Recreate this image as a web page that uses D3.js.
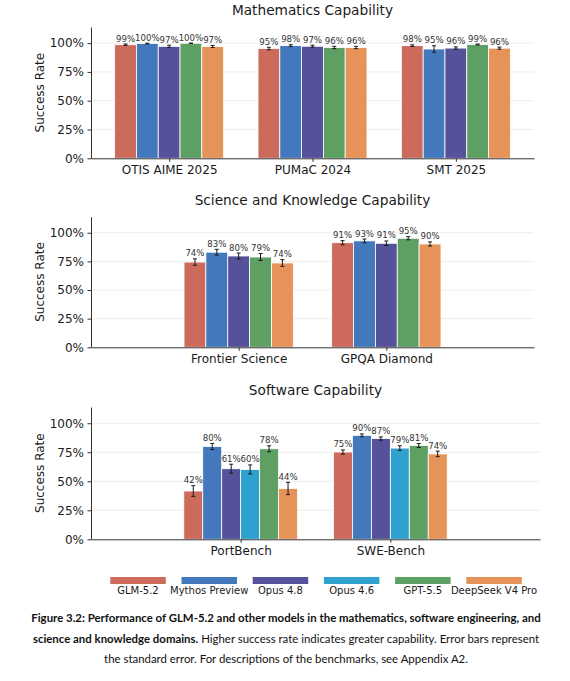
<!DOCTYPE html>
<html>
<head>
<meta charset="utf-8">
<script src="https://cdn.jsdelivr.net/npm/d3@7"></script>
<style>
  html, body { margin: 0; padding: 0; background: #fff; }
  svg { display: block; font-family: "DejaVu Sans", sans-serif; }
</style>
</head>
<body>
<div id="chart"></div>
<script>
(function(d3) {

    "use strict";

    // models, in legend order
    var models = ["GLM-5.2", "Mythos Preview", "Opus 4.8", "Opus 4.6", "GPT-5.5", "DeepSeek V4 Pro"];
    var modelColors = ["#cc6a5b", "#4478bd", "#55519b", "#2ea1cf", "#5e9f63", "#e6935a"];

    var yTicks = [0, 25, 50, 75, 100];

    // mathematics
    var mathBenchmarks = ["OTIS AIME 2025", "PUMaC 2024", "SMT 2025"];
    var mathModels = ["GLM-5.2", "Mythos Preview", "Opus 4.8", "GPT-5.5", "DeepSeek V4 Pro"];
    var mathValues = [
        [98.6, 99.6, 97.2, 99.9, 97.1],
        [95.3, 97.8, 97.3, 96.2, 96.2],
        [97.8, 94.9, 95.7, 98.8, 95.6]
    ];
    var mathErrors = [
        [0.6, 0.3, 1.0, 0.1, 0.9],
        [1.1, 0.8, 0.9, 1.0, 1.0],
        [0.7, 2.8, 1.0, 0.4, 0.9]
    ];

    // science and knowledge
    var scienceBenchmarks = ["Frontier Science", "GPQA Diamond"];
    var scienceModels = ["GLM-5.2", "Mythos Preview", "Opus 4.8", "GPT-5.5", "DeepSeek V4 Pro"];
    var scienceValues = [
        [74.4, 83.0, 79.7, 78.8, 73.6],
        [91.3, 92.9, 90.8, 95.2, 90.2]
    ];
    var scienceErrors = [
        [2.8, 2.5, 2.6, 3.0, 2.9],
        [1.8, 1.6, 2.0, 1.4, 1.8]
    ];

    // software
    var softwareBenchmarks = ["PortBench", "SWE-Bench"];
    var softwareModels = models;
    var softwareValues = [
        [41.6, 80.0, 60.8, 60.2, 78.0, 43.8],
        [75.2, 89.6, 86.8, 78.6, 80.8, 73.6]
    ];
    var softwareErrors = [
        [4.6, 2.6, 3.9, 3.9, 2.6, 5.3],
        [1.8, 1.2, 1.4, 2.0, 1.7, 2.4]
    ];

    var captionLines = [
        [{ text: "Figure 3.2: Performance of GLM-5.2 and other models in the mathematics, software engineering, and", bold: true }],
        [{ text: "science and knowledge domains.", bold: true },
         { text: " Higher success rate indicates greater capability. Error bars represent", bold: false }],
        [{ text: "the standard error. For descriptions of the benchmarks, see Appendix A2.", bold: false }]
    ];

    var width = 570,
        height = 681;

    var color = d3.scaleOrdinal().domain(models).range(modelColors);

    var svg = d3.select("#chart")
        .append("svg")
        .attr("width", width)
        .attr("height", height);

    svg.append("rect")
        .attr("width", width)
        .attr("height", height)
        .attr("fill", "#fff");

    /**
     * Draw one grouped bar panel
     * @param  {Object} p panel settings
     */
    function drawPanel(p) {
        var x = d3.scaleLinear().domain(p.xDomain).range([p.left, p.right]);
        var y = d3.scaleLinear().domain([0, 114]).range([p.bottom, p.top]);
        var band = d3.scaleBand()
            .domain(p.models)
            .range([-p.groupWidth / 2, p.groupWidth / 2]);
        var barWidth = x(band.bandwidth()) - x(0);

        var g = svg.append("g");

        g.selectAll(".grid")
            .data(yTicks.slice(1))
            .enter()
            .append("line")
            .attr("class", "grid")
            .attr("x1", p.left)
            .attr("x2", p.right)
            .attr("y1", y)
            .attr("y2", y)
            .attr("stroke", "#e8e8e8")
            .attr("stroke-width", 0.8);

        var rows = [];
        p.benchmarks.forEach(function(b, i) {
            p.models.forEach(function(m, j) {
                rows.push({ group: i, model: m, value: p.values[i][j], err: p.errors[i][j] });
            });
        });

        var cx = function(d) { return x(d.group + band(d.model)) + barWidth / 2; };

        g.selectAll(".bar")
            .data(rows)
            .enter()
            .append("rect")
            .attr("class", "bar")
            .attr("x", function(d) { return x(d.group + band(d.model)); })
            .attr("width", barWidth)
            .attr("y", function(d) { return y(d.value); })
            .attr("height", function(d) { return y(0) - y(d.value); })
            .attr("fill", function(d) { return color(d.model); })
            .attr("stroke", "#fff")
            .attr("stroke-width", 0.8);

        var err = g.selectAll(".err")
            .data(rows)
            .enter()
            .append("g")
            .attr("class", "err")
            .attr("stroke", "#1a1a1a")
            .attr("stroke-width", 1);

        err.append("line")
            .attr("x1", cx).attr("x2", cx)
            .attr("y1", function(d) { return y(d.value - d.err); })
            .attr("y2", function(d) { return y(d.value + d.err); });

        [-1, 1].forEach(function(s) {
            err.append("line")
                .attr("x1", function(d) { return cx(d) - 2; })
                .attr("x2", function(d) { return cx(d) + 2; })
                .attr("y1", function(d) { return y(d.value + s * d.err); })
                .attr("y2", function(d) { return y(d.value + s * d.err); });
        });

        g.selectAll(".val")
            .data(rows)
            .enter()
            .append("text")
            .attr("class", "val")
            .attr("x", cx)
            .attr("y", function(d) { return y(d.value + d.err) - 2.5; })
            .attr("text-anchor", "middle")
            .attr("font-size", "8.6px")
            .attr("fill", "#333")
            .text(function(d) { return Math.round(d.value) + "%"; });

        var yAxis = g.append("g")
            .attr("transform", "translate(" + p.left + ",0)")
            .call(d3.axisLeft(y)
                .tickValues(yTicks)
                .tickFormat(function(d) { return d + "%"; })
                .tickSize(3.5)
                .tickPadding(3.5)
                .tickSizeOuter(0));

        var xAxis = g.append("g")
            .attr("transform", "translate(0," + p.bottom + ")")
            .call(d3.axisBottom(x)
                .tickValues(d3.range(p.benchmarks.length))
                .tickFormat(function(i) { return p.benchmarks[i]; })
                .tickSize(3.5)
                .tickPadding(3.5)
                .tickSizeOuter(0));

        [yAxis, xAxis].forEach(function(a) {
            a.attr("font-family", "DejaVu Sans").attr("font-size", "12px");
            a.selectAll("path, line").attr("stroke", "#333");
            a.selectAll("text").attr("fill", "#1a1a1a");
        });

        g.append("text")
            .attr("transform", "translate(40," + (p.top + p.bottom) / 2 + ") rotate(-90)")
            .attr("text-anchor", "middle")
            .attr("dominant-baseline", "central")
            .attr("font-size", "12px")
            .attr("fill", "#1a1a1a")
            .text("Success Rate");

        g.append("text")
            .attr("x", (p.left + p.right) / 2)
            .attr("y", p.top - 12)
            .attr("text-anchor", "middle")
            .attr("font-size", "13.7px")
            .attr("fill", "#1a1a1a")
            .text(p.title);
    }

    drawPanel({
        title: "Mathematics Capability",
        benchmarks: mathBenchmarks, models: mathModels,
        values: mathValues, errors: mathErrors,
        top: 27, bottom: 158.3, left: 91, right: 534,
        xDomain: [-0.545, 2.545], groupWidth: 0.76
    });

    drawPanel({
        title: "Science and Knowledge Capability",
        benchmarks: scienceBenchmarks, models: scienceModels,
        values: scienceValues, errors: scienceErrors,
        top: 216.7, bottom: 347.3, left: 91, right: 534,
        xDomain: [-1, 2], groupWidth: 0.74
    });

    drawPanel({
        title: "Software Capability",
        benchmarks: softwareBenchmarks, models: softwareModels,
        values: softwareValues, errors: softwareErrors,
        top: 407, bottom: 539.3, left: 91, right: 540,
        xDomain: [-1, 2], groupWidth: 0.76
    });

    // legend: swatch above label
    var legendX = d3.scalePoint().domain(models).range([138, 494]);
    var legend = svg.append("g")
        .selectAll(".key")
        .data(models)
        .enter()
        .append("g")
        .attr("class", "key")
        .attr("transform", function(d) { return "translate(" + legendX(d) + ",0)"; });

    legend.append("rect")
        .attr("x", -27.7)
        .attr("y", 577)
        .attr("width", 55.5)
        .attr("height", 7)
        .attr("fill", function(d) { return color(d); });

    legend.append("text")
        .attr("y", 594)
        .attr("text-anchor", "middle")
        .attr("font-size", "10px")
        .attr("fill", "#1a1a1a")
        .text(function(d) { return d; });

    // caption
    var caption = svg.append("g")
        .attr("font-family", "Lato, 'Open Sans', sans-serif")
        .attr("fill", "#111");

    var lines = caption.selectAll(".cap")
        .data(captionLines)
        .enter()
        .append("text")
        .attr("class", "cap")
        .attr("x", 286)
        .attr("y", function(d, i) { return 622 + i * 20.5; })
        .attr("text-anchor", "middle")
        .attr("font-size", "11px");

    lines.selectAll("tspan")
        .data(function(d) { return d; })
        .enter()
        .append("tspan")
        .attr("font-weight", function(d) { return d.bold ? 700 : 400; })
        .text(function(d) { return d.text; });

    // fit the caption to the reference line width
    var targets = [517, 500];
    var ratio = d3.mean(targets, function(t, i) {
        return t / lines.nodes()[i].getComputedTextLength();
    });
    lines.attr("font-size", (11 * ratio) + "px");

})(d3);
</script>
</body>
</html>
